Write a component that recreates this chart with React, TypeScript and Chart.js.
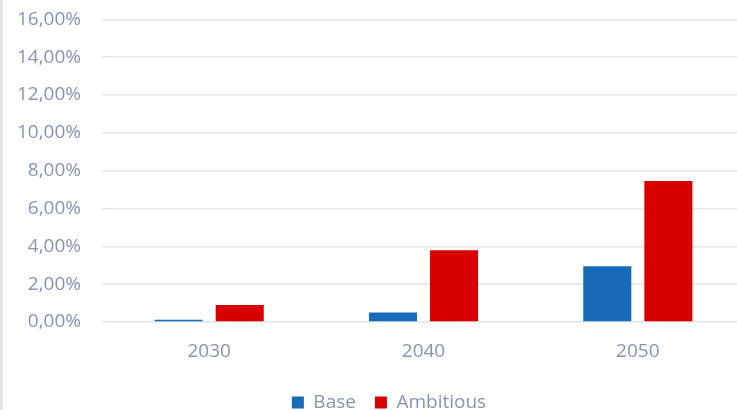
import React, { useEffect, useRef } from "react";
import { Chart, registerables } from "chart.js";

Chart.register(...registerables);

const categories = ["2030", "2040", "2050"];
const baseValues = [0.12, 0.5, 2.95];
const ambitiousValues = [0.9, 3.8, 7.45];
const yMin = 0;
const yMax = 16;
const yStep = 2;

const FONT = "'Open Sans', sans-serif";
const TEXT = "#8595b0";

const shiftLegend = {
  id: "shiftLegend",
  afterLayout(chart: any) {
    const l = chart.legend;
    if (l) {
      l.left += 16.5;
      l.right += 16.5;
    }
  },
};

export default function App() {
  const ref = useRef<HTMLCanvasElement | null>(null);

  useEffect(() => {
    document.body.style.margin = "0";
    const canvas = ref.current!;
    const chart = new Chart(canvas, {
      type: "bar",
      data: {
        labels: categories,
        datasets: [
          {
            label: "Base",
            data: baseValues,
            backgroundColor: "#176bb8",
            barPercentage: 0.787,
            categoryPercentage: 0.57,
          },
          {
            label: "Ambitious",
            data: ambitiousValues,
            backgroundColor: "#d90000",
            barPercentage: 0.787,
            categoryPercentage: 0.57,
          },
        ],
      },
      plugins: [shiftLegend],
      options: {
        animation: false,
        responsive: false,
        devicePixelRatio: 1,
        layout: { padding: { top: 0, left: 0, right: 33, bottom: 0 } },
        plugins: {
          tooltip: { enabled: false },
          legend: {
            position: "bottom",
            labels: {
              boxWidth: 12,
              boxHeight: 12,
              padding: 19,
              color: TEXT,
              font: { family: FONT, size: 19 },
            },
          },
        },
        scales: {
          x: {
            grid: { display: false, drawTicks: false },
            border: { display: false },
            ticks: {
              color: TEXT,
              font: { family: FONT, size: 19 },
              padding: 18,
            },
            afterFit: (s: any) => {
              s.height = 52;
            },
          },
          y: {
            min: yMin,
            max: yMax,
            grid: { color: "#e1e5ec", lineWidth: 1.5, drawTicks: false },
            border: { display: false },
            ticks: {
              stepSize: yStep,
              color: TEXT,
              padding: 21,
              font: { family: FONT, size: 19 },
              callback: (v: any) => Number(v).toFixed(2).replace(".", ",") + "%",
            },
            afterFit: (s: any) => {
              s.width = 102;
            },
          },
        },
      },
    });
    return () => chart.destroy();
  }, []);

  return (
    <div
      style={{
        position: "fixed",
        left: 0,
        top: 0,
        width: 737,
        height: 410,
        overflow: "hidden",
        background: "#fff",
      }}
    >
      <canvas
        ref={ref}
        width={778}
        height={435}
        style={{ position: "absolute", left: 0, top: -13, width: 778, height: 435 }}
      />
      <div
        style={{
          position: "absolute",
          left: 0,
          top: 0,
          width: 3,
          height: 410,
          background: "#e6e6e6",
        }}
      />
    </div>
  );
}
